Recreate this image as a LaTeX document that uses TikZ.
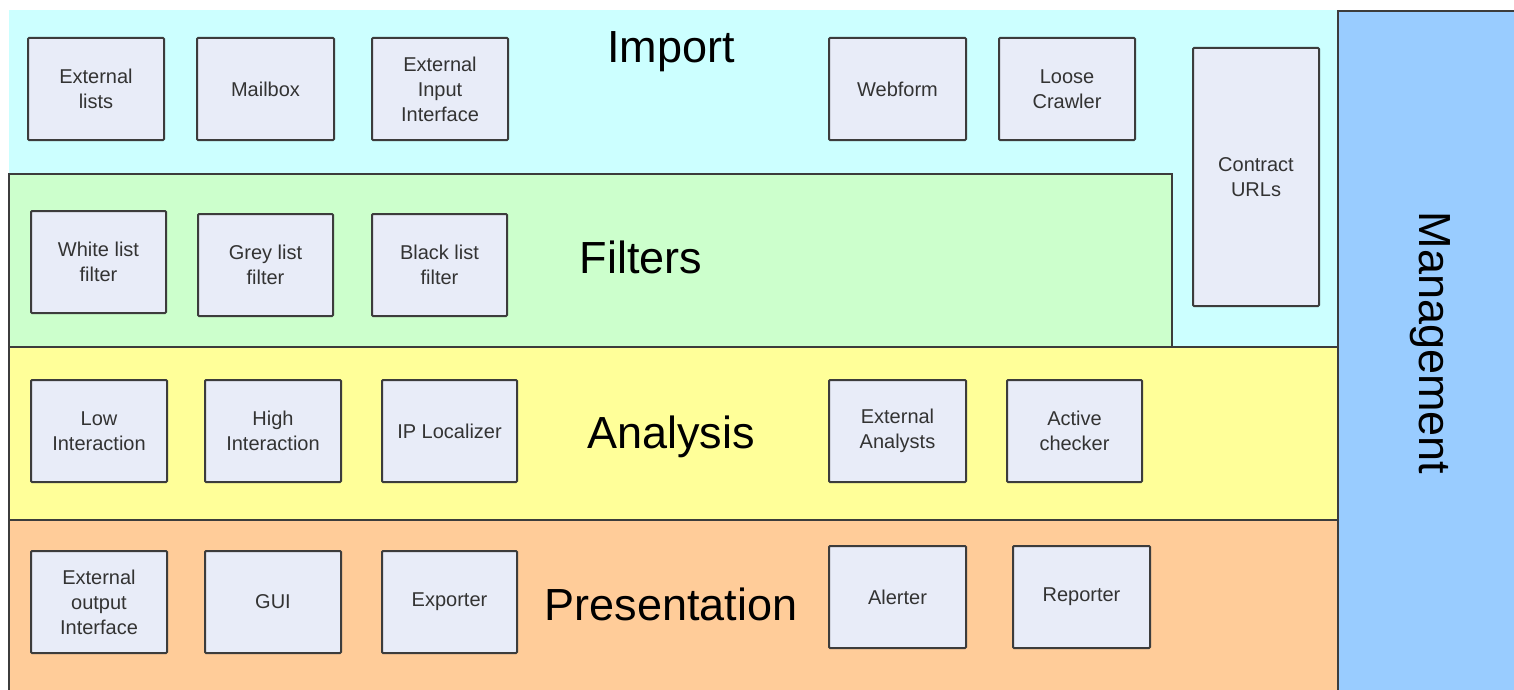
\documentclass[tikz,border=0pt]{standalone}
\usepackage{fontspec}
\setmainfont{Liberation Sans}
\usetikzlibrary{positioning}

\definecolor{importc}{HTML}{CCFFFF}
\definecolor{filterc}{HTML}{CCFFCC}
\definecolor{analysisc}{HTML}{FFFF99}
\definecolor{presentc}{HTML}{FFCC99}
\definecolor{managec}{HTML}{99CCFF}
\definecolor{compfill}{HTML}{E8ECF8}
\definecolor{compline}{HTML}{3C3C3C}
\definecolor{comptext}{HTML}{333333}

\tikzset{
  layer/.style={draw=compline, line width=1.5pt},
  comp/.style={draw=compline, fill=compfill, line width=2pt, rounded corners=1pt,
    align=center, text=comptext, inner sep=0pt,
    font=\fontsize{20}{25}\selectfont},
  title/.style={font=\fontsize{45}{50}\selectfont, text=black, inner sep=0pt,
    anchor=base}
}

% place a component box from its corner coordinates (pixels, y downwards)
\newcommand{\compbox}[6]{%
  \node[comp, minimum width={#4-#2}, minimum height={#5-#3}]
    (#1) at ({(#2+#4)/2},{(#3+#5)/2}) {#6};}

\begin{document}
\begin{tikzpicture}[x=1pt, y=-1pt]
  \useasboundingbox (0,0) rectangle (1514,690);

  % layers
  \fill[importc] (9,10) rectangle (1338,347);
  \draw[layer, fill=filterc] (9,174) rectangle (1172,347);
  \draw[layer, fill=analysisc] (9,347) rectangle (1338,520);
  \draw[layer, fill=presentc] (9,520) rectangle (1338,693);
  \draw[layer, fill=managec] (1338,11) rectangle (1517,693);

  % layer titles
  \node[title] (timport) at (671,63) {Import};
  \node[title] (tfilters) at (641,273) {Filters};
  \node[title] (tanalysis) at (671,448) {Analysis};
  \node[title] (tpresent) at (671,620) {Presentation};
  \node[title, anchor=center, rotate=-90] (tmanage) at (1430,343) {Management};

  % import
  \compbox{extlists}{28}{38}{164}{140}{External\\lists}
  \compbox{mailbox}{197}{38}{334}{140}{Mailbox}
  \compbox{extinput}{372}{38}{508}{140}{External\\Input\\Interface}
  \compbox{webform}{829}{38}{966}{140}{Webform}
  \compbox{crawler}{999}{38}{1135}{140}{Loose\\Crawler}
  \compbox{contract}{1193}{48}{1319}{306}{Contract\\URLs}

  % filters
  \compbox{white}{31}{211}{166}{313}{White list\\filter}
  \compbox{grey}{198}{214}{333}{316}{Grey list\\filter}
  \compbox{black}{372}{214}{507}{316}{Black list\\filter}

  % analysis
  \compbox{lowint}{31}{380}{167}{482}{Low\\Interaction}
  \compbox{highint}{205}{380}{341}{482}{High\\Interaction}
  \compbox{iploc}{382}{380}{517}{482}{IP Localizer}
  \compbox{extanal}{829}{380}{966}{482}{External\\Analysts}
  \compbox{active}{1007}{380}{1142}{482}{Active\\checker}

  % presentation
  \compbox{extout}{31}{551}{167}{653}{External\\output\\Interface}
  \compbox{gui}{205}{551}{341}{653}{GUI}
  \compbox{exporter}{382}{551}{517}{653}{Exporter}
  \compbox{alerter}{829}{546}{966}{648}{Alerter}
  \compbox{reporter}{1013}{546}{1150}{648}{Reporter}
\end{tikzpicture}
\end{document}
